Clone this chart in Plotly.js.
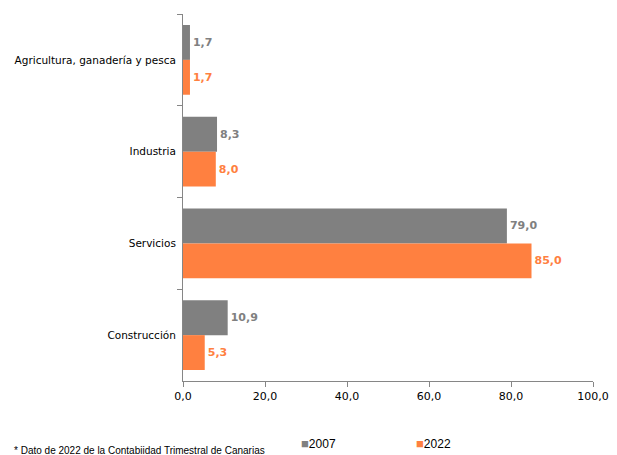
<!DOCTYPE html>
<html>
<head>
<meta charset="utf-8">
<script src="https://cdn.plot.ly/plotly-3.0.1.min.js"></script>
<style>html,body{margin:0;padding:0;background:#fff;}#chart{width:617px;height:455px;}</style>
</head>
<body>
<div id="chart"></div>
<script>
const categories = ["Agricultura, ganadería y pesca", "Industria", "Servicios", "Construcción"];
const values2007 = [1.7, 8.3, 79.0, 10.9];
const values2022 = [1.7, 8.0, 85.0, 5.3];
const seriesNames = ["2007", "2022"];
const xTicks = [0, 20, 40, 60, 80, 100];
const footnote = "* Dato de 2022 de la Contabiidad Trimestral de Canarias";

const grey = "#808080";
const orange = "#FF8040";
const colors = [grey, orange];
const font = "DejaVu Sans, Verdana, sans-serif";
const smallFont = "Liberation Sans, Arial, sans-serif";

const traces = [
  {type: "bar", orientation: "h", name: seriesNames[0], y: categories, x: values2007,
   marker: {color: grey}, text: values2007, texttemplate: "%{x:.1f}", textposition: "outside",
   textfont: {family: font, size: 11, color: grey, weight: "bold"}, cliponaxis: false, showlegend: false},
  {type: "bar", orientation: "h", name: seriesNames[1], y: categories, x: values2022,
   marker: {color: orange}, text: values2022, texttemplate: "%{x:.1f}", textposition: "outside",
   textfont: {family: font, size: 11, color: orange, weight: "bold"}, cliponaxis: false, showlegend: false}
];

const legendX = [299, 414];
const annotations = seriesNames.map((n, i) => ({
  text: "<span style='color:" + colors[i] + ";font-size:13px'>■</span>" + n,
  xref: "paper", yref: "paper", x: (legendX[i] - 183) / 410, y: (381 - 443) / 367,
  xanchor: "left", yanchor: "middle", showarrow: false,
  font: {family: smallFont, size: 12, color: "#000"}
}));
annotations.push({text: footnote, xref: "paper", yref: "paper", x: (12 - 183) / 410, y: (381 - 450) / 367,
  xanchor: "left", yanchor: "middle", showarrow: false, font: {family: smallFont, size: 10, color: "#000"}});

const layout = {
  width: 617, height: 455,
  margin: {l: 183, r: 24, t: 14, b: 74},
  paper_bgcolor: "#fff", plot_bgcolor: "#fff",
  separators: ",.",
  barmode: "group", bargap: 0.24, bargroupgap: 0,
  showlegend: false,
  font: {family: font, size: 11, color: "#000"},
  xaxis: {range: [0, 100], tickvals: xTicks, tickformat: ".1f", showgrid: false, zeroline: false,
    showline: true, linecolor: "#868686", linewidth: 1, ticks: "outside", ticklen: 5, tickcolor: "#868686",
    tickfont: {family: font, size: 11, color: "#000"}, fixedrange: true, automargin: false},
  yaxis: {autorange: "reversed", showgrid: false, zeroline: false, showline: true, linecolor: "#868686",
    linewidth: 1, ticks: "outside", ticklen: 5, tickcolor: "#868686", tickson: "boundaries",
    ticklabelstandoff: 4,
    tickfont: {family: font, size: 10.5, color: "#000"}, fixedrange: true, automargin: false},
  annotations: annotations
};

Plotly.newPlot("chart", traces, layout, {displayModeBar: false, staticPlot: true});
</script>
</body>
</html>
